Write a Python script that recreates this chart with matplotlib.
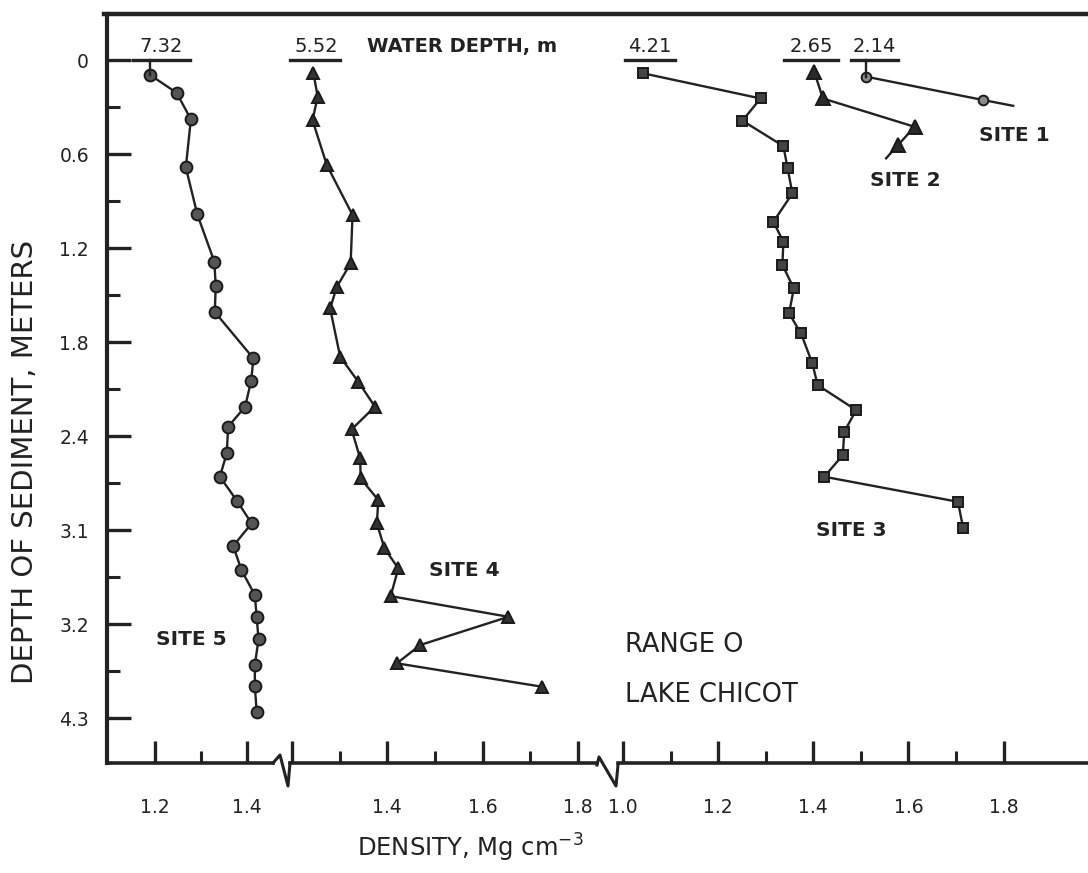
import matplotlib
matplotlib.use("Agg")
import matplotlib.pyplot as plt
from matplotlib.lines import Line2D
from matplotlib.ticker import FixedLocator

# ---------------- data ----------------
# depth below sediment surface (axis units, m) and density (Mg cm-3)
site5_depth = [0.096, 0.209, 0.378, 0.685, 0.985, 1.287, 1.442, 1.608, 1.904, 2.046,
               2.212, 2.340, 2.510, 2.659, 2.812, 2.957, 3.101, 3.255, 3.414, 3.553,
               3.697, 3.861, 3.995, 4.159]
site5_density = [1.190, 1.247, 1.278, 1.267, 1.292, 1.329, 1.332, 1.330, 1.414, 1.409,
                 1.396, 1.359, 1.356, 1.341, 1.378, 1.410, 1.370, 1.388, 1.417, 1.421,
                 1.425, 1.417, 1.417, 1.421]

site4_depth = [0.085, 0.234, 0.383, 0.670, 0.989, 1.297, 1.447, 1.585, 1.893, 2.053,
               2.212, 2.357, 2.542, 2.670, 2.808, 2.957, 3.116, 3.244, 3.421, 3.553,
               3.733, 3.850, 3.999]
site4_density = [1.245, 1.254, 1.243, 1.273, 1.327, 1.323, 1.294, 1.280, 1.301, 1.339,
                 1.374, 1.325, 1.343, 1.344, 1.381, 1.378, 1.394, 1.423, 1.407, 1.654,
                 1.469, 1.420, 1.724]

site3_depth = [0.085, 0.245, 0.387, 0.549, 0.691, 0.851, 1.032, 1.159, 1.308, 1.457,
               1.617, 1.744, 1.936, 2.074, 2.234, 2.372, 2.521, 2.659, 2.819, 2.989]
site3_density = [1.043, 1.289, 1.251, 1.337, 1.346, 1.356, 1.316, 1.337, 1.335, 1.359,
                 1.349, 1.374, 1.398, 1.409, 1.490, 1.465, 1.462, 1.423, 1.704, 1.715]

# last value of sites 2 and 1 is the free end of the drawn line (no symbol)
site2_depth = [0.075, 0.245, 0.426, 0.542, 0.627]
site2_density = [1.402, 1.420, 1.613, 1.578, 1.553]
site1_depth = [0.106, 0.255, 0.292]
site1_density = [1.511, 1.757, 1.820]

water_depths = ["7.32", "5.52", "4.21", "2.65", "2.14"]

y_major = [0, 0.6, 1.2, 1.8, 2.4, 3.0, 3.6, 4.2]
y_labels = ["0", "0.6", "1.2", "1.8", "2.4", "3.1", "3.2", "4.3"]
y_minor = [0.3, 0.9, 1.5, 2.1, 2.7, 3.3, 3.9]

x1_major, x1_labels, x1_minor = [1.2, 1.4], ["1.2", "1.4"], [1.3]
x2_major, x2_labels, x2_minor = [1.2, 1.4, 1.6, 1.8], ["", "1.4", "1.6", "1.8"], [1.3, 1.5, 1.7]
x3_major = [1.0, 1.2, 1.4, 1.6, 1.8]
x3_labels = ["1.0", "1.2", "1.4", "1.6", "1.8"]
x3_minor = [1.1, 1.3, 1.5, 1.7]

# ---------------- layout ----------------
W, H = 1088, 873
INK = "#222222"
fig = plt.figure(figsize=(W / 100, H / 100), dpi=100)
fig.patch.set_facecolor("white")

def fx(px):
    return px / W

def fy(py):
    return 1 - py / H

TOP, BOT = 14, 763
segs = [(107, 273, (1.0957, 1.4565)),
        (290, 597, (1.1958, 1.8398)),
        (618, 1090, (0.98945, 1.9815))]
axes = []
for i, (l, r, xl) in enumerate(segs):
    ax = fig.add_axes([fx(l), fy(BOT), (r - l) / W, (BOT - TOP) / H])
    ax.set_xlim(*xl)
    ax.set_ylim(4.486, -0.294)
    ax.set_facecolor("none")
    for s in ["top", "right"]:
        ax.spines[s].set_visible(False)
    ax.spines["bottom"].set_linewidth(2.6)
    ax.spines["bottom"].set_color(INK)
    if i == 0:
        ax.spines["left"].set_linewidth(3.0)
        ax.spines["left"].set_color(INK)
    else:
        ax.spines["left"].set_visible(False)
    axes.append(ax)

ax1, ax2, ax3 = axes

# y ticks
ax1.yaxis.set_major_locator(FixedLocator(y_major))
ax1.set_yticklabels(y_labels)
ax1.yaxis.set_minor_locator(FixedLocator(y_minor))
ax1.tick_params(axis="y", which="major", direction="in", length=17, width=2.4,
                color=INK, pad=13, labelsize=13.5, labelcolor=INK)
ax1.tick_params(axis="y", which="minor", direction="in", length=9, width=2.2, color=INK)
for ax in (ax2, ax3):
    ax.set_yticks([])

# x ticks
for ax, maj, lab, mnr in ((ax1, x1_major, x1_labels, x1_minor),
                          (ax2, x2_major, x2_labels, x2_minor),
                          (ax3, x3_major, x3_labels, x3_minor)):
    ax.xaxis.set_major_locator(FixedLocator(maj))
    ax.set_xticklabels(lab)
    ax.xaxis.set_minor_locator(FixedLocator(mnr))
    ax.tick_params(axis="x", which="major", direction="in", length=16, width=2.4,
                   color=INK, pad=25, labelsize=13.5, labelcolor=INK)
    ax.tick_params(axis="x", which="minor", direction="in", length=9, width=2.2, color=INK)

# frame top line and axis breaks
fig.add_artist(Line2D([fx(104), fx(1088)], [fy(TOP), fy(TOP)], lw=3.2, color=INK))
for pts in ([(273, 763), (280, 755), (288, 786), (290, 763)],
            [(597, 765), (599, 757), (616, 786), (618, 765)]):
    fig.add_artist(Line2D([fx(p[0]) for p in pts], [fy(p[1]) for p in pts],
                          lw=2.2, color=INK))

# ---------------- series ----------------
mk = dict(color=INK, lw=1.7, mec="#1a1a1a", mew=1.4)
ax1.plot(site5_density, site5_depth, marker="o", ms=8.5, mfc="#555555", **mk)
ax1.plot([site5_density[0]] * 2, [0, site5_depth[0]], color=INK, lw=1.7)

ax2.plot(site4_density, site4_depth, marker="^", ms=9, mfc="#333333", **mk)

ax3.plot(site3_density, site3_depth, marker="s", ms=7.5, mfc="#444444", **mk)
ax3.plot(site2_density, site2_depth, marker="^", ms=9.5, mfc="#2a2a2a",
         markevery=list(range(len(site2_depth) - 1)), **mk)
ax3.plot(site1_density, site1_depth, marker="o", ms=7, mfc="#8a8a8a",
         markevery=list(range(len(site1_depth) - 1)), **mk)
ax3.plot([site1_density[0]] * 2, [0, site1_depth[0]], color=INK, lw=1.7)

# ---------------- water depth markers ----------------
wd = [(ax1, 1.152, 1.276, 1.214), (ax2, 1.196, 1.301, 1.250),
      (ax3, 1.004, 1.110, 1.057), (ax3, 1.338, 1.452, 1.395),
      (ax3, 1.479, 1.578, 1.528)]
for (ax, a, b, c), label in zip(wd, water_depths):
    ax.plot([a, b], [0, 0], color=INK, lw=2.4, clip_on=False)
    ax.text(c, -0.025, label, ha="center", va="bottom", fontsize=14, color=INK)
ax2.text(1.357, -0.085, "WATER DEPTH, m", ha="left", va="center",
         fontsize=14, fontweight="bold", color=INK)

# ---------------- labels ----------------
txt = dict(color=INK, ha="center", va="center", fontweight="bold")
ax1.text(1.280, 3.70, "SITE 5", fontsize=14.5, **txt)
ax2.text(1.561, 3.255, "SITE 4", fontsize=14.5, **txt)
ax3.text(1.479, 3.00, "SITE 3", fontsize=14.5, **txt)
ax3.text(1.593, 0.766, "SITE 2", fontsize=14.5, **txt)
ax3.text(1.823, 0.479, "SITE 1", fontsize=14.5, **txt)
ax3.text(1.004, 3.733, "RANGE O", fontsize=18.5, color=INK, ha="left", va="center")
ax3.text(1.004, 4.052, "LAKE CHICOT", fontsize=18.5, color=INK, ha="left", va="center")

fig.text(fx(25), fy(462), "DEPTH OF SEDIMENT, METERS", rotation=90, fontsize=21,
         color=INK, ha="center", va="center")
fig.text(fx(470), fy(848), "DENSITY, Mg cm$^{-3}$", fontsize=17.5, color=INK,
         ha="center", va="center")

fig.savefig("out.png", dpi=100, facecolor="white")
